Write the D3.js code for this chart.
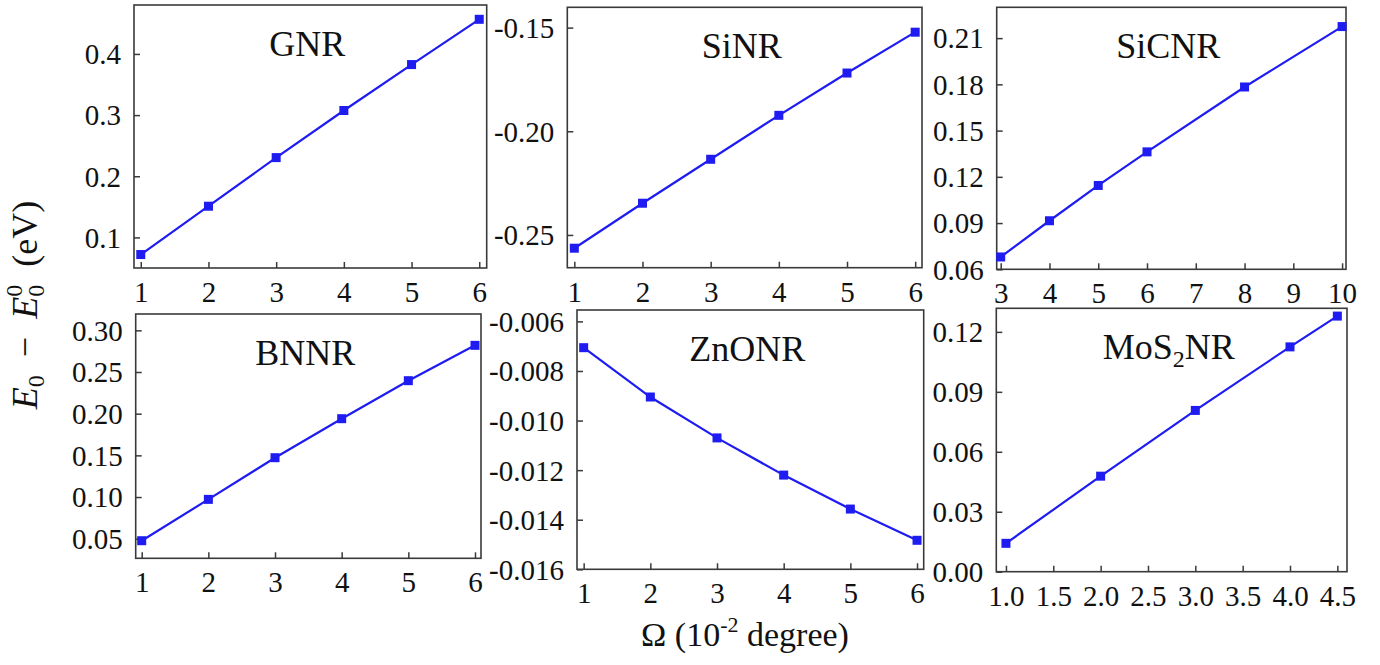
<!DOCTYPE html>
<html><head><meta charset="utf-8">
<script src="https://cdn.jsdelivr.net/npm/d3@7"></script>
<style>
html,body{margin:0;padding:0;background:#fff;}
svg text{font-family:"Liberation Serif","Times New Roman",Times,"DejaVu Serif",serif !important;}
</style></head>
<body><svg id="c" width="1380" height="665"></svg>
<script>
// ---- data ----
const gnrX = [1, 2, 3, 4, 5, 6];
const gnrY = [0.072, 0.151, 0.2305, 0.3075, 0.3826, 0.4566];
const sinrX = [1, 2, 3, 4, 5, 6];
const sinrY = [-0.2564, -0.2347, -0.2135, -0.1923, -0.1719, -0.1522];
const sicnrX = [3, 4, 5, 6, 8, 10];
const sicnrY = [0.068, 0.0915, 0.1144, 0.1362, 0.1783, 0.2175];
const bnnrX = [1, 2, 3, 4, 5, 6];
const bnnrY = [0.0476, 0.0972, 0.1472, 0.194, 0.2396, 0.282];
const znonrX = [1, 2, 3, 4, 5, 6];
const znonrY = [-0.00706, -0.00905, -0.0107, -0.0122, -0.01357, -0.01483];
const mos2X = [1, 2, 3, 4, 4.5];
const mos2Y = [0.0142, 0.0478, 0.0807, 0.1125, 0.1279];

const ticksX16 = [1, 2, 3, 4, 5, 6];
const ticksLabelsX16 = ["1", "2", "3", "4", "5", "6"];
const gnrYTicks = [0.1, 0.2, 0.3, 0.4];
const gnrYLabels = ["0.1", "0.2", "0.3", "0.4"];
const sinrYTicks = [-0.25, -0.20, -0.15];
const sinrYLabels = ["-0.25", "-0.20", "-0.15"];
const sicnrXTicks = [3, 4, 5, 6, 7, 8, 9, 10];
const sicnrXLabels = ["3", "4", "5", "6", "7", "8", "9", "10"];
const sicnrYTicks = [0.06, 0.09, 0.12, 0.15, 0.18, 0.21];
const sicnrYLabels = ["0.06", "0.09", "0.12", "0.15", "0.18", "0.21"];
const bnnrYTicks = [0.05, 0.10, 0.15, 0.20, 0.25, 0.30];
const bnnrYLabels = ["0.05", "0.10", "0.15", "0.20", "0.25", "0.30"];
const znonrYTicks = [-0.016, -0.014, -0.012, -0.010, -0.008, -0.006];
const znonrYLabels = ["-0.016", "-0.014", "-0.012", "-0.010", "-0.008", "-0.006"];
const mos2XTicks = [1.0, 1.5, 2.0, 2.5, 3.0, 3.5, 4.0, 4.5];
const mos2XLabels = ["1.0", "1.5", "2.0", "2.5", "3.0", "3.5", "4.0", "4.5"];
const mos2YTicks = [0.00, 0.03, 0.06, 0.09, 0.12];
const mos2YLabels = ["0.00", "0.03", "0.06", "0.09", "0.12"];

// ---- layout ----
const panels = [
  {title:"GNR", xs:gnrX, ys:gnrY, xd:[0.9,6.11], yd:[0.05,0.48], xt:ticksX16, xl:ticksLabelsX16, yt:gnrYTicks, yl:gnrYLabels, box:[134,5,486.7,268]},
  {title:"SiNR", xs:sinrX, ys:sinrY, xd:[0.897,6.1], yd:[-0.2658,-0.1402], xt:ticksX16, xl:ticksLabelsX16, yt:sinrYTicks, yl:sinrYLabels, box:[567.3,7.3,922,267.7]},
  {title:"SiCNR", xs:sicnrX, ys:sicnrY, xd:[2.918,10.08], yd:[0.06,0.23], xt:sicnrXTicks, xl:sicnrXLabels, yt:sicnrYTicks, yl:sicnrYLabels, box:[996.7,7.3,1346,269.3]},
  {title:"BNNR", xs:bnnrX, ys:bnnrY, xd:[0.91,6.09], yd:[0.0265,0.3196], xt:ticksX16, xl:ticksLabelsX16, yt:bnnrYTicks, yl:bnnrYLabels, box:[135.7,314,481,558.3]},
  {title:"ZnONR", xs:znonrX, ys:znonrY, xd:[0.9,6.1], yd:[-0.016,-0.00554], xt:ticksX16, xl:ticksLabelsX16, yt:znonrYTicks, yl:znonrYLabels, box:[577,310,923.7,569.3]},
  {title:"MoS2NR", xs:mos2X, ys:mos2Y, xd:[0.898,4.602], yd:[0,0.1318], xt:mos2XTicks, xl:mos2XLabels, yt:mos2YTicks, yl:mos2YLabels, box:[996.3,308.3,1347,571.7]}
];

const svg = d3.select("#c");
const BLUE = "#1f1cf2";
const FRAME = "#3a3a3a";
const TICKFS = 29;

panels.forEach(p => {
  const [x0, y0, x1, y1] = p.box;
  const x = d3.scaleLinear().domain(p.xd).range([x0, x1]);
  const y = d3.scaleLinear().domain(p.yd).range([y1, y0]);
  const g = svg.append("g");

  const xAxis = d3.axisBottom(x).tickValues(p.xt).tickSizeInner(-6).tickSizeOuter(0)
    .tickFormat((d, i) => p.xl[i]).tickPadding(13);
  const gx = g.append("g").attr("transform", `translate(0,${y1})`).call(xAxis);
  gx.attr("font-family", null).attr("font-size", null);
  gx.select(".domain").remove();
  gx.selectAll("line").attr("stroke", FRAME).attr("stroke-width", 1.5);
  gx.selectAll("text").attr("font-size", TICKFS).attr("fill", "#111").attr("dy", "0.72em");

  const yAxis = d3.axisLeft(y).tickValues(p.yt).tickSizeInner(-6).tickSizeOuter(0)
    .tickFormat((d, i) => p.yl[i]).tickPadding(13);
  const gy = g.append("g").attr("transform", `translate(${x0},0)`).call(yAxis);
  gy.attr("font-family", null).attr("font-size", null);
  gy.select(".domain").remove();
  gy.selectAll("line").attr("stroke", FRAME).attr("stroke-width", 1.5);
  gy.selectAll("text").attr("font-size", TICKFS).attr("fill", "#111").attr("dy", "0.34em");

  g.append("rect").attr("x", x0).attr("y", y0).attr("width", x1 - x0).attr("height", y1 - y0)
    .attr("fill", "none").attr("stroke", FRAME).attr("stroke-width", 1.6);

  const pts = p.xs.map((v, i) => [v, p.ys[i]]);
  g.append("path").datum(pts)
    .attr("d", d3.line().x(d => x(d[0])).y(d => y(d[1])))
    .attr("fill", "none").attr("stroke", BLUE).attr("stroke-width", 2.2);
  g.selectAll("rect.m").data(pts).join("rect").attr("class", "m")
    .attr("x", d => x(d[0]) - 4.5).attr("y", d => y(d[1]) - 4.5)
    .attr("width", 9).attr("height", 9).attr("fill", BLUE);

  const t = g.append("text").attr("x", (x0 + x1) / 2 - 3).attr("y", y0 + 51)
    .attr("text-anchor", "middle").attr("font-size", 36).attr("fill", "#111");
  if (p.title === "MoS2NR") {
    t.append("tspan").text("MoS");
    t.append("tspan").text("2").attr("font-size", 24).attr("dy", 8);
    t.append("tspan").text("NR").attr("dy", -8);
  } else {
    t.text(p.title);
  }
});

// y label
const yl = svg.append("text").attr("transform", "translate(37,305) rotate(-90)")
  .attr("text-anchor", "middle").attr("font-size", 36).attr("fill", "#111");
yl.append("tspan").text("E").attr("font-style", "italic");
yl.append("tspan").text("0").attr("font-size", 24).attr("dy", 7);
yl.append("tspan").text("\u2002\u2212\u2002").attr("dy", -7);
yl.append("tspan").text("E").attr("font-style", "italic");
yl.append("tspan").text("0").attr("font-size", 24).attr("dy", 7);
yl.append("tspan").text("0").attr("font-size", 24).attr("dx", -12).attr("dy", -22);
yl.append("tspan").text("\u2002(eV)").attr("dy", 15);

// x label
const xl = svg.append("text").attr("x", 745).attr("y", 646)
  .attr("text-anchor", "middle").attr("font-size", 34).attr("fill", "#111");
xl.append("tspan").text("\u03A9 (10");
xl.append("tspan").text("-2").attr("font-size", 22).attr("dy", -14);
xl.append("tspan").text(" degree)").attr("dy", 14);
</script></body></html>
